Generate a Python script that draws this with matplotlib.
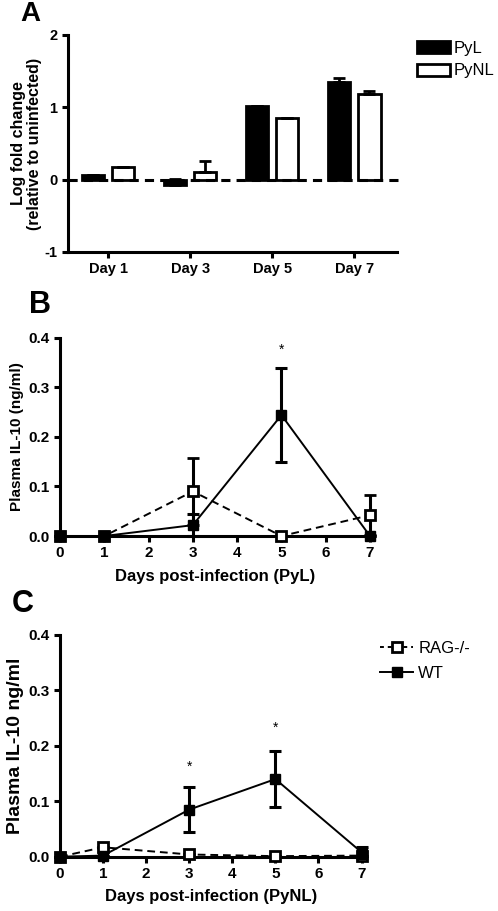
import numpy as np
import matplotlib
matplotlib.use("Agg")
import matplotlib.pyplot as plt
from matplotlib.patches import Patch
from matplotlib.lines import Line2D

plt.rcParams['font.family'] = ['Liberation Sans', 'DejaVu Sans']
plt.rcParams['axes.unicode_minus'] = False
plt.rcParams['axes.linewidth'] = 2.2
plt.rcParams['xtick.major.width'] = 2.2
plt.rcParams['ytick.major.width'] = 2.2
plt.rcParams['xtick.major.size'] = 4
plt.rcParams['ytick.major.size'] = 4

# panel A data: log fold change
days_a = ['Day 1', 'Day 3', 'Day 5', 'Day 7']
pyl_fold = [0.06, -0.08, 1.02, 1.35]
pyl_err = [0.0, 0.09, 0.0, 0.05]
pynl_fold = [0.17, 0.10, 0.85, 1.18]
pynl_err = [0.0, 0.16, 0.0, 0.04]

# panel B data: plasma IL-10 after PyL
days = [0, 1, 3, 5, 7]
b_wt = [0.0, 0.0, 0.022, 0.244, 0.0]
b_wt_err = [0.0, 0.0, 0.022, 0.094, 0.0]
b_rag = [0.0, 0.0, 0.090, 0.0, 0.042]
b_rag_err = [0.0, 0.0, 0.068, 0.0, 0.040]
b_stars = [(5, 0.375)]

# panel C data: plasma IL-10 after PyNL
c_wt = [0.0, 0.002, 0.085, 0.140, 0.008]
c_wt_err = [0.0, 0.0, 0.040, 0.050, 0.010]
c_rag = [0.0, 0.017, 0.004, 0.001, 0.002]
c_rag_err = [0.0, 0.0, 0.0, 0.0, 0.0]
c_stars = [(3, 0.163), (5, 0.233)]

fig = plt.figure(figsize=(4.98, 9.11), dpi=100)

# ---- panel A
ax = fig.add_axes([0.1365, 0.7234, 0.6605, 0.2382])
x = np.arange(len(days_a))
w = 0.27
ax.bar(x - 0.185, pyl_fold, w, color='black', edgecolor='black', lw=2,
       yerr=[np.zeros(4), pyl_err], capsize=4, error_kw=dict(lw=2, capthick=2))
ax.bar(x + 0.185, pynl_fold, w, color='white', edgecolor='black', lw=2,
       yerr=[np.zeros(4), pynl_err], capsize=4, error_kw=dict(lw=2, capthick=2))
ax.axhline(0, color='black', lw=2.2, ls=(0, (3, 2)), clip_on=False, xmax=1.01)
ax.set_ylim(-1, 2)
ax.set_xlim(-0.49, 3.52)
ax.set_yticks([-1, 0, 1, 2])
ax.set_xticks(x)
ax.set_xticklabels(days_a)
ax.spines['top'].set_visible(False)
ax.spines['right'].set_visible(False)
for t in ax.get_xticklabels() + ax.get_yticklabels():
    t.set_fontweight('bold')
    t.set_fontsize(10.5)
ax.set_ylabel('Log fold change\n(relative to uninfected)', fontsize=11.5,
              fontweight='bold', labelpad=2, linespacing=1.1)
ax.legend(handles=[Patch(facecolor='black', edgecolor='black', lw=2, label='PyL'),
                   Patch(facecolor='white', edgecolor='black', lw=2, label='PyNL')],
          loc='upper left', bbox_to_anchor=(417 / 498, 1 - 41 / 911),
          bbox_transform=fig.transFigure, frameon=False, fontsize=12,
          handlelength=2.0, handleheight=0.75, handletextpad=0.2,
          labelspacing=0.45, borderpad=0, borderaxespad=0)
fig.text(20 / 498, 1 - 14 / 911, 'A', fontsize=20, fontweight='bold', va='center')


def line_panel(ax, wt, wt_err, rag, rag_err, stars, xlabel, ylabel, ysize):
    ax.errorbar(days, rag, yerr=rag_err, color='black', lw=1.4,
                ls=(0, (4, 2.5)), marker='s', ms=7, mfc='white', mec='black',
                mew=2, capsize=4.5, elinewidth=2.2, capthick=2.2, clip_on=False,
                zorder=3)
    ax.errorbar(days, wt, yerr=wt_err, color='black', lw=1.4, marker='s',
                ms=7, mfc='black', mec='black', capsize=4.5, elinewidth=2.2,
                capthick=2.2, clip_on=False, zorder=4)
    for sx, sy in stars:
        ax.text(sx, sy, '*', ha='center', va='center', fontsize=10)
    ax.set_xlim(0, 7)
    ax.set_ylim(0, 0.4)
    ax.set_xticks(range(8))
    ax.set_yticks([0, 0.1, 0.2, 0.3, 0.4])
    ax.set_yticklabels(['0.0', '0.1', '0.2', '0.3', '0.4'])
    ax.spines['top'].set_visible(False)
    ax.spines['right'].set_visible(False)
    for t in ax.get_xticklabels() + ax.get_yticklabels():
        t.set_fontweight('bold')
        t.set_fontsize(11)
    ax.set_xlabel(xlabel, fontsize=12, fontweight='bold', labelpad=6)
    ax.set_ylabel(ylabel, fontsize=ysize, fontweight='bold', labelpad=3)


# ---- panel B
ax_b = fig.add_axes([0.1205, 0.4116, 0.6225, 0.2177])
line_panel(ax_b, b_wt, b_wt_err, b_rag, b_rag_err, b_stars,
           'Days post-infection (PyL)', 'Plasma IL-10 (ng/ml)', 11)
fig.text(29 / 498, 1 - 305 / 911, 'B', fontsize=22, fontweight='bold', va='center')

# ---- panel C
ax_c = fig.add_axes([0.1205, 0.0596, 0.6055, 0.2434])
line_panel(ax_c, c_wt, c_wt_err, c_rag, c_rag_err, c_stars,
           'Days post-infection (PyNL)', 'Plasma IL-10 ng/ml', 14)
fig.text(12 / 498, 1 - 604 / 911, 'C', fontsize=22, fontweight='bold', va='center')
ax_c.legend(handles=[Line2D([], [], color='black', lw=1.4, ls=(0, (2, 2)),
                            marker='s', ms=7, mfc='white', mec='black', mew=2,
                            label='RAG-/-'),
                     Line2D([], [], color='black', lw=1.4, marker='s', ms=7,
                            mfc='black', label='WT')],
            loc='upper left', bbox_to_anchor=(380 / 498, 1 - 641 / 911),
            bbox_transform=fig.transFigure, frameon=False, fontsize=12,
            handlelength=2.0, handletextpad=0.3, labelspacing=0.6,
            borderpad=0, borderaxespad=0)

fig.savefig('out.png', dpi=100)
